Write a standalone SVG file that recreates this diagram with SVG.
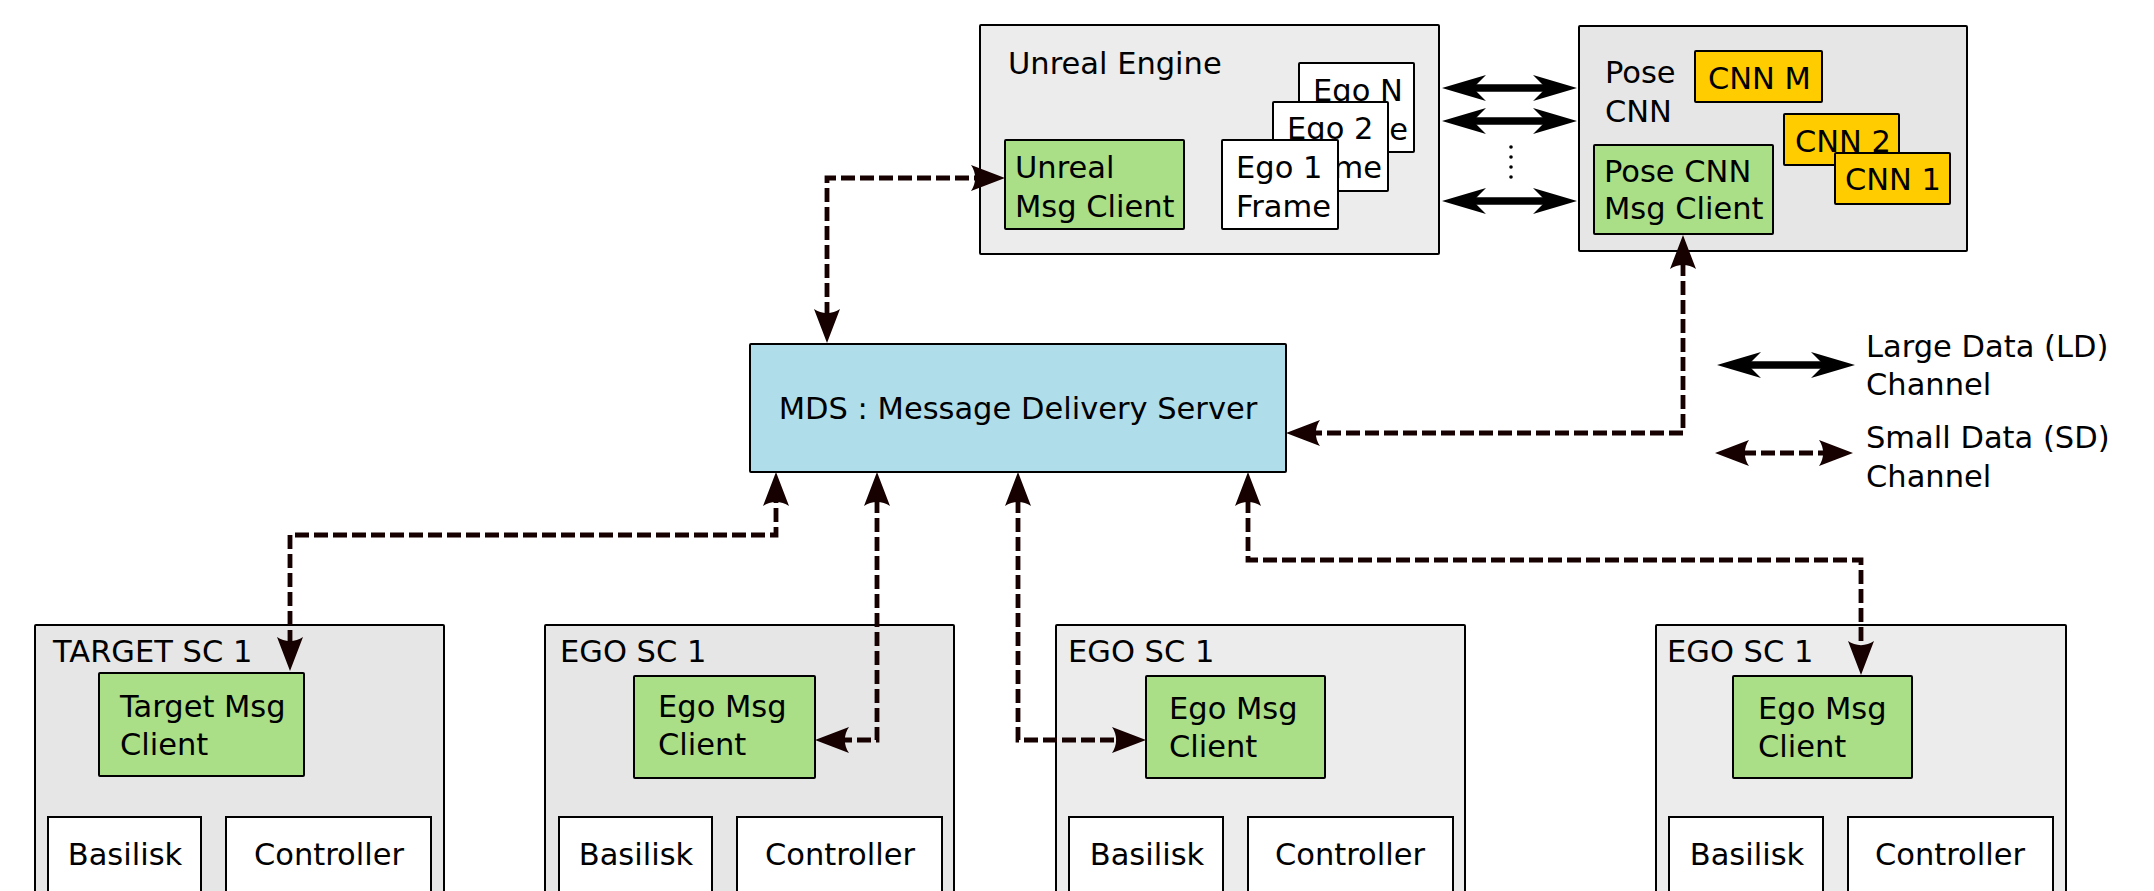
<svg xmlns="http://www.w3.org/2000/svg" width="2154" height="891" viewBox="0 0 2154 891">
<style>
text{font-family:"DejaVu Sans","Liberation Sans",sans-serif;font-size:30.5px;fill:#000}
.mid{text-anchor:middle}
rect{stroke:#000;stroke-width:2}
.g1{fill:#e6e6e6}.g2{fill:#ececec}
.grn{fill:#aade87}.yel{fill:#ffcc00}.wht{fill:#fff}.blu{fill:#afdde9}
.ld{fill:none;stroke:#000;stroke-width:7.5;marker-start:url(#ldh);marker-end:url(#ldh)}
.sd{fill:none;stroke:#160000;stroke-width:4.8;stroke-dasharray:14 5;marker-start:url(#sdh);marker-end:url(#sdh)}
</style>
<defs>
<marker id="ldh" markerUnits="userSpaceOnUse" viewBox="-48 -16 52 32" markerWidth="52" markerHeight="32" refX="-31" refY="0" orient="auto-start-reverse"><path d="M0,0 L-44,-13 L-31,0 L-44,13 Z" fill="#000"/></marker>
<marker id="sdh" markerUnits="userSpaceOnUse" viewBox="-38 -16 42 32" markerWidth="42" markerHeight="32" refX="-27" refY="0" orient="auto-start-reverse"><path d="M0,0 L-34,-13 C-28.5,-5.5 -28.5,5.5 -34,13 Z" fill="#160000"/></marker>
</defs>

<g id="unreal">
<rect class="g2" x="980" y="25" width="459" height="229" rx="1"/>
<text x="1008" y="74">Unreal Engine</text>
</g>
<g id="unreal-client">
<rect class="grn" x="1005" y="140" width="179" height="89" rx="1"/>
<text x="1015" y="178">Unreal</text><text x="1015" y="217">Msg Client</text>
</g>
<g id="egoN-frame">
<rect class="wht" x="1299" y="63" width="115" height="89" rx="1"/>
<text x="1313" y="101">Ego N</text><text x="1313" y="140">Frame</text>
</g>
<g id="ego2-frame">
<rect class="wht" x="1273" y="102" width="115" height="89" rx="1"/>
<text x="1287" y="139">Ego 2</text><text x="1287" y="178">Frame</text>
</g>
<g id="ego1-frame">
<rect class="wht" x="1222" y="140" width="116" height="89" rx="1"/>
<text x="1236" y="178">Ego 1</text><text x="1236" y="217">Frame</text>
</g>

<g id="posecnn">
<rect class="g1" x="1579" y="26" width="388" height="225" rx="1"/>
<text x="1605" y="83">Pose</text><text x="1605" y="122">CNN</text>
</g>
<g id="cnnM"><rect class="yel" x="1695" y="51" width="127" height="51" rx="1"/><text x="1708" y="89">CNN M</text></g>
<g id="cnn2"><rect class="yel" x="1784" y="114" width="115" height="51" rx="1"/><text x="1795" y="152">CNN 2</text></g>
<g id="cnn1"><rect class="yel" x="1835" y="153" width="115" height="51" rx="1"/><text x="1845" y="190">CNN 1</text></g>
<g id="pose-client">
<rect class="grn" x="1594" y="145" width="179" height="89" rx="1"/>
<text x="1604" y="182">Pose CNN</text><text x="1604" y="219">Msg Client</text>
</g>

<g id="mds">
<rect class="blu" x="750" y="344" width="536" height="128" rx="1"/>
<text class="mid" x="1018" y="419">MDS : Message Delivery Server</text>
</g>

<g id="target-sc">
<rect class="g1" x="35" y="625" width="409" height="290" rx="1"/>
<text x="53" y="662">TARGET SC 1</text>
<rect class="grn" x="99" y="673" width="205" height="103" rx="1"/>
<text x="120" y="717">Target Msg</text><text x="120" y="755">Client</text>
<rect class="wht" x="48" y="817" width="153" height="100"/>
<text class="mid" x="125" y="865">Basilisk</text>
<rect class="wht" x="226" y="817" width="205" height="100"/>
<text class="mid" x="329" y="865">Controller</text>
</g>

<g id="ego-sc-a">
<rect class="g1" x="545" y="625" width="409" height="290" rx="1"/>
<text x="560" y="662">EGO SC 1</text>
<rect class="grn" x="634" y="676" width="181" height="102" rx="1"/>
<text x="658" y="717">Ego Msg</text><text x="658" y="755">Client</text>
<rect class="wht" x="559" y="817" width="153" height="100"/>
<text class="mid" x="636" y="865">Basilisk</text>
<rect class="wht" x="737" y="817" width="205" height="100"/>
<text class="mid" x="840" y="865">Controller</text>
</g>

<g id="ego-sc-b">
<rect class="g2" x="1056" y="625" width="409" height="290" rx="1"/>
<text x="1068" y="662">EGO SC 1</text>
<rect class="grn" x="1146" y="676" width="179" height="102" rx="1"/>
<text x="1169" y="719">Ego Msg</text><text x="1169" y="757">Client</text>
<rect class="wht" x="1069" y="817" width="154" height="100"/>
<text class="mid" x="1147" y="865">Basilisk</text>
<rect class="wht" x="1248" y="817" width="205" height="100"/>
<text class="mid" x="1350" y="865">Controller</text>
</g>

<g id="ego-sc-c">
<rect class="g2" x="1656" y="625" width="410" height="290" rx="1"/>
<text x="1667" y="662">EGO SC 1</text>
<rect class="grn" x="1733" y="676" width="179" height="102" rx="1"/>
<text x="1758" y="719">Ego Msg</text><text x="1758" y="757">Client</text>
<rect class="wht" x="1669" y="817" width="154" height="100"/>
<text class="mid" x="1747" y="865">Basilisk</text>
<rect class="wht" x="1848" y="817" width="205" height="100"/>
<text class="mid" x="1950" y="865">Controller</text>
</g>

<g id="legend">
<path class="ld" d="M1748,365 H1824"/>
<text x="1866" y="357">Large Data (LD)</text><text x="1866" y="395">Channel</text>
<path class="sd" d="M1742,453 H1826"/>
<text x="1866" y="448">Small Data (SD)</text><text x="1866" y="487">Channel</text>
</g>

<g id="connectors">
<path class="ld" d="M1473,88 H1546"/>
<path class="ld" d="M1473,121 H1546"/>
<path class="ld" d="M1473,201 H1546"/>
<g fill="#000"><circle cx="1511" cy="147" r="1.8"/><circle cx="1511" cy="157" r="1.8"/><circle cx="1511" cy="167" r="1.8"/><circle cx="1511" cy="177" r="1.8"/></g>
<path class="sd" d="M827,316 V178 H978"/>
<path class="sd" d="M1683,262 V433 H1313"/>
<path class="sd" d="M290,644 V535 H776 V499"/>
<path class="sd" d="M877,499 V740 H842"/>
<path class="sd" d="M1018,499 V740 H1119"/>
<path class="sd" d="M1248,499 V560 H1861 V648"/>
</g>
</svg>
